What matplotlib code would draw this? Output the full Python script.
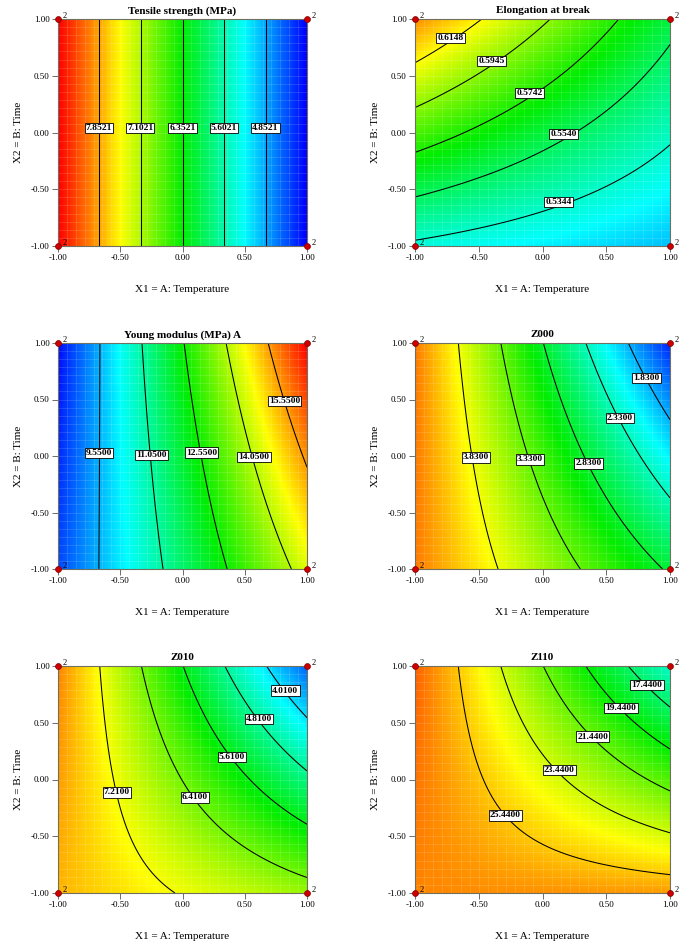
import numpy as np
import matplotlib
matplotlib.use('Agg')
import matplotlib.pyplot as plt
from matplotlib.colors import LinearSegmentedColormap

plt.rcParams['font.family'] = ['Liberation Serif', 'DejaVu Sans']

# axis text (coded factor levels)
x_label = 'X1 = A: Temperature'
y_label = 'X2 = B: Time'
tick_vals = [-1.0, -0.5, 0.0, 0.5, 1.0]
tick_labels = ['-1.00', '-0.50', '0.00', '0.50', '1.00']
titles = ['Tensile strength (MPa)', 'Elongation at break', 'Young modulus (MPa) A',
          'Z000', 'Z010', 'Z110']

# coded models: b0, A, B, AB
coef_1 = [6.3521, -2.25, 0.0, 0.0]
coef_2 = [0.5600, -0.0232, 0.0368, -0.0146]
coef_3 = [12.000, 3.675, 0.495, 0.765]
coef_4 = [3.200, -1.1375, -0.360, -0.3625]
coef_5 = [6.400, -1.4616, -0.7776, -0.9264]
coef_6 = [24.000, -3.104, -2.524, -2.896]

# contour levels (ascending)
levels_1 = [4.8521, 5.6021, 6.3521, 7.1021, 7.8521]
levels_2 = [0.5344, 0.5540, 0.5742, 0.5945, 0.6148]
levels_3 = [9.5500, 11.050, 12.550, 14.050, 15.550]
levels_4 = [1.8300, 2.3300, 2.8300, 3.3300, 3.8300]
levels_5 = [4.0100, 4.8100, 5.6100, 6.4100, 7.2100]
levels_6 = [17.440, 19.440, 21.440, 23.440, 25.440]

# colour scale range
crange_1 = [4.10, 8.60]
crange_2 = [0.4805, 0.6596]
crange_3 = [7.95, 16.95]
crange_4 = [1.20, 4.77]
crange_5 = [2.62, 8.82]
crange_6 = [9.4, 29.4]

# contour label positions (same order as levels)
labx_1 = [0.665, 0.333, -0.002, -0.339, -0.67]
laby_1 = [0.04, 0.04, 0.04, 0.04, 0.04]
labx_2 = [0.124, 0.166, -0.10, -0.40, -0.72]
laby_2 = [-0.61, -0.015, 0.35, 0.63, 0.835]
labx_3 = [-0.67, -0.25, 0.151, 0.574, 0.82]
laby_3 = [0.028, 0.01, 0.03, -0.01, 0.487]
labx_4 = [0.817, 0.608, 0.36, -0.098, -0.52]
laby_4 = [0.69, 0.337, -0.066, -0.03, -0.013]
labx_5 = [0.826, 0.614, 0.398, 0.098, -0.526]
laby_5 = [0.783, 0.534, 0.197, -0.158, -0.114]
labx_6 = [0.82, 0.616, 0.394, 0.132, -0.291]
laby_6 = [0.833, 0.627, 0.378, 0.085, -0.317]

# design points (corners) and replicate counts
pt_x = [-1, 1, -1, 1]
pt_y = [-1, -1, 1, 1]
pt_n = ['2', '2', '2', '2']

cmap = LinearSegmentedColormap.from_list(
    'dx', ['#0000ff', '#00ffff', '#00ee00', '#ffff00', '#ff0000'])

panels = [
    (coef_1, levels_1, crange_1, labx_1, laby_1),
    (coef_2, levels_2, crange_2, labx_2, laby_2),
    (coef_3, levels_3, crange_3, labx_3, laby_3),
    (coef_4, levels_4, crange_4, labx_4, laby_4),
    (coef_5, levels_5, crange_5, labx_5, laby_5),
    (coef_6, levels_6, crange_6, labx_6, laby_6),
]

W, H = 682, 943
# axes boxes in pixels: left, top, right, bottom
boxes = [(58, 19, 307, 246), (415, 19, 670, 246),
         (58, 343, 307, 569), (415, 343, 670, 569),
         (58, 666, 307, 893), (415, 666, 670, 893)]

fig = plt.figure(figsize=(W / 100, H / 100), dpi=100)

g = np.linspace(-1, 1, 241)
A, B = np.meshgrid(g, g)

for i, (coef, levels, cr, lx, ly) in enumerate(panels):
    l, t, r, b = boxes[i]
    ax = fig.add_axes([l / W, (H - b) / H, (r - l) / W, (b - t) / H])
    Z = coef[0] + coef[1] * A + coef[2] * B + coef[3] * A * B
    ax.imshow(Z, extent=(-1, 1, -1, 1), origin='lower', cmap=cmap,
              vmin=cr[0], vmax=cr[1], interpolation='bilinear', aspect='auto')
    # faint grid texture
    gl = np.linspace(-1, 1, 29)
    ax.vlines(gl, -1, 1, colors='white', alpha=0.18, lw=0.5)
    ax.hlines(gl, -1, 1, colors='white', alpha=0.18, lw=0.5)
    ax.contour(A, B, Z, levels=levels, colors='black', linewidths=0.75)
    for v, x, y in zip(levels, lx, ly):
        ax.text(x, y, '%.4f' % v, ha='center', va='center', fontsize=6.8,
                fontweight='bold',
                bbox=dict(boxstyle='square,pad=0.12', fc='white', ec='black', lw=0.6))
    ax.scatter(pt_x, pt_y, s=18, color='#cc0000', edgecolors='#800000',
               linewidths=0.5, zorder=5, clip_on=False)
    for x, y, n in zip(pt_x, pt_y, pt_n):
        ax.annotate(n, (x, y), xytext=(3, 1), textcoords='offset points',
                    fontsize=6, annotation_clip=False)
    ax.set_xlim(-1, 1)
    ax.set_ylim(-1, 1)
    ax.set_xticks(tick_vals)
    ax.set_xticklabels(tick_labels)
    ax.set_yticks(tick_vals)
    ax.set_yticklabels(tick_labels)
    ax.tick_params(labelsize=6.5, length=4, width=0.6, color='#555555', pad=2)
    for s in ax.spines.values():
        s.set_color('#707060')
        s.set_linewidth(0.8)
    ax.set_title(titles[i], fontsize=8, fontweight='bold', pad=4)
    ax.set_xlabel(x_label, fontsize=8, labelpad=16)
    ax.set_ylabel(y_label, fontsize=8, labelpad=6)

fig.savefig('out.png', dpi=100)
